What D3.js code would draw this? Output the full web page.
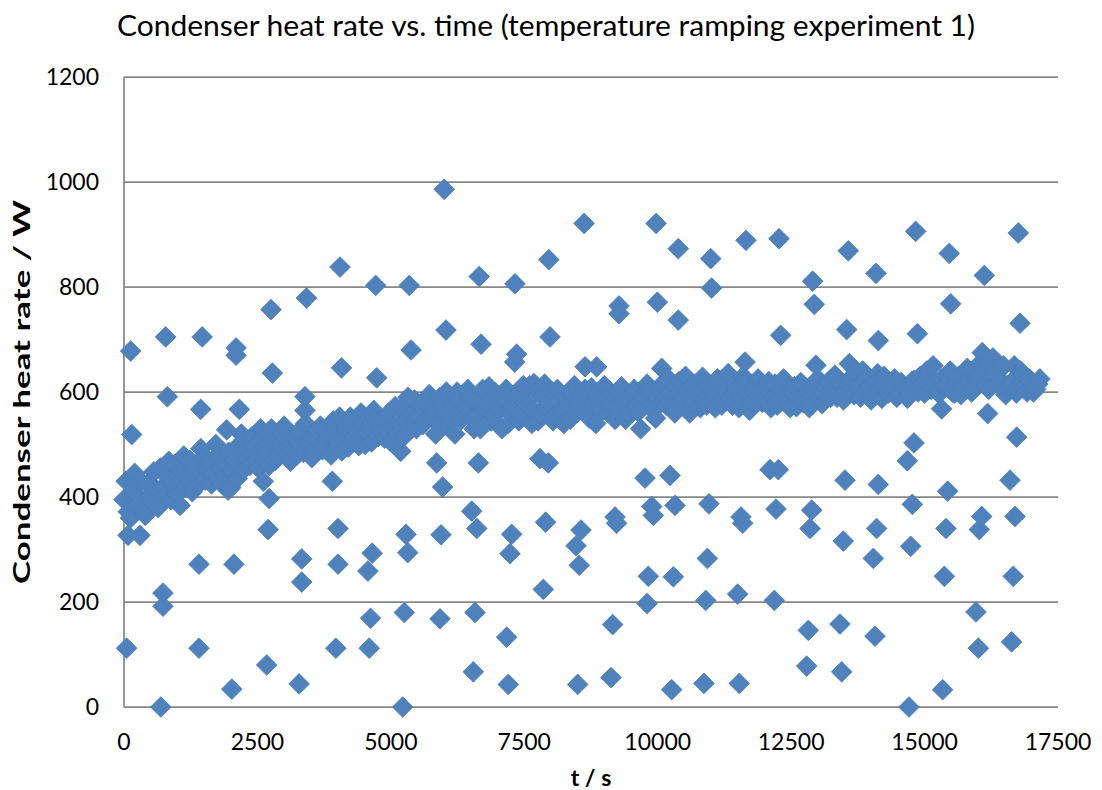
<!DOCTYPE html>
<html>
<head>
<meta charset="utf-8">
<script src="https://d3js.org/d3.v7.min.js"></script>
<style>
  body { margin: 0; background: #fff; }
  svg { display: block; font-family: Lato, 'Open Sans', sans-serif; }
  .grid line { stroke: #878787; stroke-width: 1.75; }
  .tick-label { font-size: 23px; fill: #000; }
  .axis-title { font-weight: bold; fill: #000; }
</style>
</head>
<body>
<div id="chart"></div>
<script>
// main band of readings [t (s), heat rate (W)]
const bandPoints = [
  [0,395],[80,372],[160,410],[240,385],[320,430],[400,365],[480,402],[560,448],[640,380],[720,418],
  [800,440],[880,395],[960,462],[1040,425],[1120,478],[1200,438],[1280,410],[1360,455],[1440,492],[1520,432],
  [1600,468],[1680,445],[1760,480],[1840,425],[1920,458],[2000,418],[2080,470],[2160,500],[2240,452],[2320,488],
  [2400,515],[2480,470],[2560,530],[2640,495],[2720,460],[2800,505],[2880,478],[2960,520],[3040,490],[3120,468],
  [3200,512],[3280,525],[3360,485],[3440,502],[3520,475],[3600,510],[3680,535],[3760,498],[3840,520],[3920,545],
  [4000,505],[4080,488],[4160,530],[4240,552],[4320,515],[4400,498],[4480,540],[4560,522],[4640,505],[4720,548],
  [4800,530],[4880,512],[4960,560],[5040,535],[5120,518],[5200,570],[5280,545],[5360,528],[5440,585],[5520,552],
  [5600,538],[5680,575],[5760,555],[5840,520],[5920,590],[6000,560],[6080,535],[6160,578],[6240,600],[6320,548],
  [6400,570],[6480,590],[6560,530],[6640,558],[6720,605],[6800,575],[6880,545],[6960,598],[7040,565],[7120,585],
  [7200,540],[7280,572],[7360,595],[7440,555],[7520,580],[7600,612],[7680,565],[7760,545],[7840,590],[7920,570],
  [8000,600],[8080,555],[8160,582],[8240,540],[8320,575],[8400,598],[8480,560],[8560,585],[8640,605],[8720,550],
  [8800,578],[8880,595],[8960,565],[9040,590],[9120,575],[9200,548],[9280,600],[9360,582],[9440,560],[9520,595],
  [9600,575],[9680,530],[9760,588],[9840,605],[9920,565],[10000,590],[10080,615],[10160,575],[10240,598],[10320,560],
  [10400,620],[10480,590],[10560,605],[10640,578],[10720,600],[10800,570],[10880,585],[10960,612],[11040,595],[11120,625],
  [11200,575],[11280,600],[11360,588],[11440,615],[11520,570],[11600,630],[11680,595],[11760,580],[11840,610],[11920,600],
  [12000,585],[12080,620],[12160,590],[12240,575],[12320,605],[12400,595],[12480,570],[12560,610],[12640,590],[12720,580],
  [12800,600],[12880,575],[12960,612],[13040,585],[13120,598],[13200,620],[13280,605],[13360,590],[13440,615],[13520,600],
  [13600,625],[13680,595],[13760,610],[13840,640],[13920,600],[14000,585],[14080,620],[14160,605],[14240,630],[14320,598],
  [14400,612],[14480,590],[14560,618],[14640,605],[14720,595],[14800,622],[14880,600],[14960,615],[15040,640],[15120,605],
  [15200,620],[15280,598],[15360,610],[15440,630],[15520,600],[15600,615],[15680,595],[15760,640],[15840,620],[15920,605],
  [16000,630],[16080,675],[16160,615],[16240,660],[16320,640],[16400,625],[16480,650],[16560,605],[16640,620],[16720,598],
  [16800,640],[16880,610],[16960,625],[17040,600],[17120,615]
];

// readings in between, same band with a bit more spread
const bandPoints2 = [
  [40,430],[120,360],[200,445],[280,400],[360,375],[440,425],[520,390],[600,415],[680,455],[760,400],
  [840,468],[920,430],[1000,405],[1080,450],[1160,420],[1240,470],[1320,440],[1400,425],[1480,475],[1560,450],
  [1640,425],[1720,500],[1800,455],[1880,440],[1960,485],[2040,450],[2120,435],[2200,520],[2280,478],[2360,460],
  [2440,498],[2520,455],[2600,512],[2680,485],[2760,530],[2840,470],[2920,500],[3000,535],[3080,482],[3160,515],
  [3240,480],[3320,498],[3400,540],[3480,505],[3560,488],[3640,525],[3720,490],[3800,512],[3880,480],[3960,528],
  [4040,552],[4120,510],[4200,495],[4280,540],[4360,525],[4440,560],[4520,500],[4600,535],[4680,565],[4760,515],
  [4840,548],[4920,528],[5000,505],[5080,572],[5160,540],[5240,515],[5320,590],[5400,558],[5480,530],[5560,575],
  [5640,545],[5720,595],[5800,565],[5880,540],[5960,572],[6040,600],[6120,550],[6200,520],[6280,585],[6360,562],
  [6440,605],[6520,548],[6600,585],[6680,530],[6760,568],[6840,610],[6920,555],[7000,585],[7080,530],[7160,605],
  [7240,560],[7320,590],[7400,545],[7480,612],[7560,575],[7640,540],[7720,600],[7800,560],[7880,615],[7960,580],
  [8040,545],[8120,605],[8200,565],[8280,590],[8360,548],[8440,612],[8520,575],[8600,592],[8680,560],[8760,608],
  [8840,540],[8920,585],[9000,612],[9080,560],[9160,595],[9240,570],[9320,610],[9400,548],[9480,585],[9560,605],
  [9640,562],[9720,595],[9800,615],[9880,575],[9960,550],[10040,605],[10120,585],[10200,625],[10280,570],[10360,610],
  [10440,580],[10520,630],[10600,560],[10680,615],[10760,592],[10840,628],[10920,575],[11000,605],[11080,570],[11160,615],
  [11240,590],[11320,635],[11400,575],[11480,605],[11560,592],[11640,620],[11720,565],[11800,600],[11880,625],[11960,580],
  [12040,608],[12120,570],[12200,615],[12280,590],[12360,625],[12440,580],[12520,600],[12600,572],[12680,618],[12760,595],
  [12840,570],[12920,605],[13000,625],[13080,578],[13160,610],[13240,590],[13320,632],[13400,600],[13480,585],[13560,615],
  [13640,605],[13720,640],[13800,590],[13880,622],[13960,610],[14040,595],[14120,635],[14200,588],[14280,615],[14360,605],
  [14440,625],[14520,595],[14600,610],[14680,588],[14760,620],[14840,605],[14920,630],[15000,598],[15080,615],[15160,650],
  [15240,600],[15320,625],[15400,612],[15480,640],[15560,598],[15640,630],[15720,610],[15800,645],[15880,600],[15960,625],
  [16040,655],[16120,640],[16200,605],[16280,665],[16360,620],[16440,645],[16520,595],[16600,615],[16680,650],[16760,610],
  [16840,635],[16920,600],[17000,620],[17080,605],[17160,625]
];

// scattered readings away from the band [t (s), heat rate (W)]
const scatterPoints = [
  [50,112],[75,327],[300,327],[730,217],[730,192],[690,0],[1405,272],[1405,112],[2060,272],[2020,34],
  [2700,338],[2674,80],[3330,282],[3330,238],[3280,44],[4010,340],[4010,272],[3970,112],[4650,293],[4570,259],
  [4620,169],[4595,112],[125,678],[780,705],[1465,705],[2100,684],[2100,670],[2780,636],[2755,757],[4075,646],
  [4735,627],[812,591],[1437,567],[2160,567],[144,519],[3390,591],[3390,565],[1924,528],[3903,430],[2610,430],
  [2720,397],[1050,384],[1950,413],[4047,838],[4716,803],[3420,779],
  [6000,986],[8620,921],[9970,921],[10385,873],[7960,852],[6655,820],[7325,806],[5345,803],[9275,764],[9275,749],
  [9993,771],[10385,737],[6033,718],[5378,680],[6690,691],[7982,705],[7357,672],[7320,657],[8638,648],[8857,648],
  [10075,645],[7682,616],[5185,487],[5859,465],[6640,465],[5970,419],[7795,473],[7950,465],[9762,436],[10230,441],
  [6515,373],[6610,340],[5284,329],[5316,294],[5940,328],[7264,329],[7232,292],[7900,352],[8563,337],[8470,307],
  [8530,270],[9200,362],[9230,350],[9888,382],[9918,365],[10325,384],[7857,224],[9824,249],[10293,248],[9800,197],
  [5252,180],[5921,168],[6577,180],[7170,133],[9156,157],[6545,67],[7200,43],[8500,43],[9125,56],[10262,33],[5222,0],
  [10993,854],[11654,889],[12272,892],[13571,869],[11010,798],[12903,811],[12933,767],[14090,826],[12304,708],[13540,719],
  [14133,698],[12965,651],[13590,654],[11636,657],[12104,452],[12260,452],[13510,432],[14133,424],[10961,387],[11560,362],
  [11592,350],[12216,377],[12885,375],[12854,340],[13477,316],[14102,340],[14040,283],[10930,283],[10900,203],[11498,215],
  [12185,203],[12822,146],[13415,158],[14071,135],[12791,78],[13447,67],[10867,45],[11528,45],
  [14834,906],[16757,903],[15463,864],[16120,822],[15490,768],[16788,731],[14865,711],[15320,568],[16182,559],[14802,503],
  [16726,514],[14677,469],[15433,411],[16601,432],[14770,386],[15401,340],[16070,363],[16026,338],[16694,363],[14740,306],
  [15370,249],[16662,249],[15963,181],[16008,112],[16631,124],[15338,33],[14708,0]
];

const xTicks = [0, 2500, 5000, 7500, 10000, 12500, 15000, 17500];
const yTicks = [0, 200, 400, 600, 800, 1000, 1200];

const chartTitle = "Condenser heat rate vs. time (temperature ramping experiment 1)";
const xTitle = "t / s";
const yTitle = "Condenser heat rate / W";

const width = 1102, height = 790;
const margin = {top: 77, right: 44, bottom: 83, left: 124};

const svg = d3.select("#chart").append("svg")
  .attr("width", width)
  .attr("height", height);

const x = d3.scaleLinear().domain([0, 17500]).range([margin.left, width - margin.right]);
const y = d3.scaleLinear().domain([0, 1200]).range([height - margin.bottom, margin.top]);

// gridlines (and the axis lines)
const grid = svg.append("g").attr("class", "grid");
grid.selectAll("line.h")
  .data(yTicks)
  .enter().append("line")
  .attr("class", "h")
  .attr("x1", x(0)).attr("x2", x(17500))
  .attr("y1", d => y(d)).attr("y2", d => y(d));
grid.append("line")
  .attr("x1", x(0)).attr("x2", x(0))
  .attr("y1", y(0)).attr("y2", y(1200));

// tick labels
svg.append("g").selectAll("text")
  .data(yTicks)
  .enter().append("text")
  .attr("class", "tick-label")
  .attr("x", x(0) - 25)
  .attr("y", d => y(d))
  .attr("dy", "0.35em")
  .attr("text-anchor", "end")
  .text(d => d);

svg.append("g").selectAll("text")
  .data(xTicks)
  .enter().append("text")
  .attr("class", "tick-label")
  .attr("x", d => x(d))
  .attr("y", y(0) + 43)
  .attr("text-anchor", "middle")
  .text(d => d);

// points, drawn in time order
const allPoints = bandPoints.concat(bandPoints2, scatterPoints).sort((a, b) => a[0] - b[0]);
const diamond = d3.symbol().type(d3.symbolSquare).size(215);

svg.append("g").selectAll("path")
  .data(allPoints)
  .enter().append("path")
  .attr("d", diamond)
  .attr("transform", d => `translate(${x(d[0])},${y(d[1])}) rotate(45)`)
  .attr("fill", "#4F81BD")
  .attr("stroke", "#4A7EBB")
  .attr("stroke-width", 0.75);

// titles
svg.append("text")
  .attr("x", 546)
  .attr("y", 36)
  .attr("text-anchor", "middle")
  .attr("textLength", 858)
  .attr("lengthAdjust", "spacingAndGlyphs")
  .style("font-size", "28px")
  .text(chartTitle);

svg.append("text")
  .attr("class", "axis-title")
  .attr("x", (x(0) + x(17500)) / 2)
  .attr("y", 786)
  .attr("text-anchor", "middle")
  .style("font-size", "23px")
  .text(xTitle);

svg.append("text")
  .attr("class", "axis-title")
  .attr("transform", `translate(30,${(y(0) + y(1200)) / 2}) rotate(-90)`)
  .attr("text-anchor", "middle")
  .attr("textLength", 384)
  .attr("lengthAdjust", "spacingAndGlyphs")
  .style("font-size", "23px")
  .text(yTitle);
</script>
</body>
</html>
